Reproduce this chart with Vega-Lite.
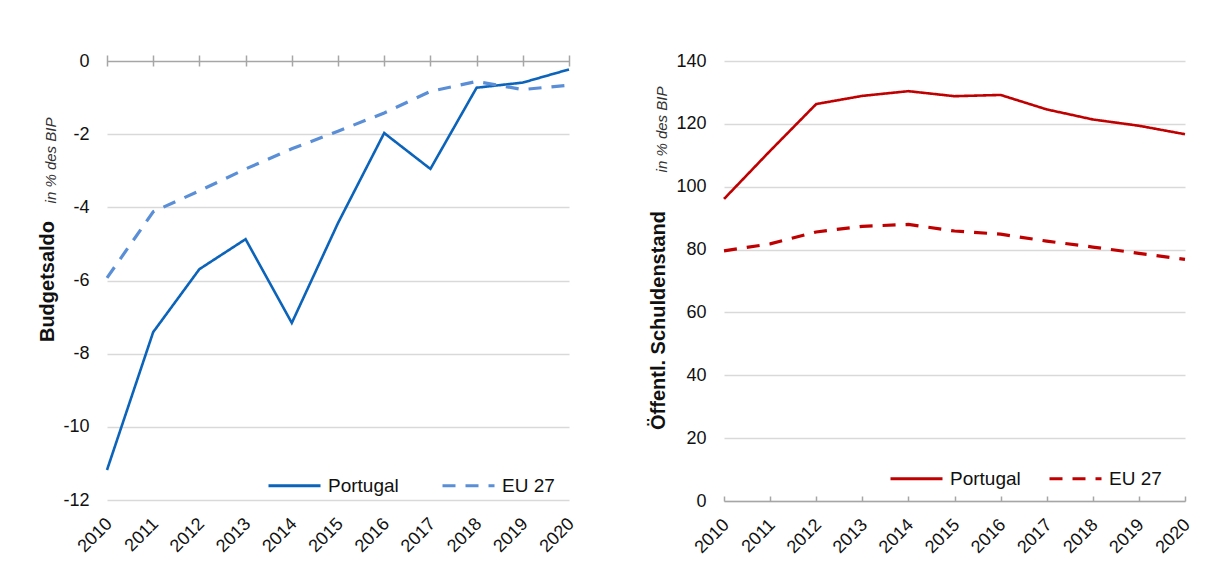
{
  "$schema": "https://vega.github.io/schema/vega-lite/v6.json",
  "background": "white",
  "padding": {"left": 37, "top": 52, "right": 5, "bottom": 5},
  "spacing": 70,
  "config": {
    "font": "Liberation Sans",
    "view": {"stroke": null},
    "axis": {
      "labelFont": "Liberation Sans",
      "labelFontSize": 18,
      "labelColor": "#111111",
      "titleFont": "Liberation Sans",
      "titleColor": "#111111",
      "gridColor": "#d9d9d9",
      "gridWidth": 1.3,
      "domainColor": "#a6a6a6",
      "domainWidth": 1.5,
      "tickColor": "#a6a6a6",
      "tickWidth": 1.5
    },
    "legend": {
      "orient": "none",
      "direction": "horizontal",
      "padding": 0,
      "labelFont": "Liberation Sans",
      "labelFontSize": 19,
      "labelColor": "#111111",
      "labelOffset": 6,
      "symbolType": "stroke",
      "symbolSize": 2704,
      "symbolStrokeWidth": 3
    }
  },
  "datasets": {
    "saldo": [
      {"Jahr": 2010, "Reihe": "Portugal", "Wert": -11.18},
      {"Jahr": 2011, "Reihe": "Portugal", "Wert": -7.41},
      {"Jahr": 2012, "Reihe": "Portugal", "Wert": -5.69},
      {"Jahr": 2013, "Reihe": "Portugal", "Wert": -4.87},
      {"Jahr": 2014, "Reihe": "Portugal", "Wert": -7.16},
      {"Jahr": 2015, "Reihe": "Portugal", "Wert": -4.43},
      {"Jahr": 2016, "Reihe": "Portugal", "Wert": -1.97},
      {"Jahr": 2017, "Reihe": "Portugal", "Wert": -2.95},
      {"Jahr": 2018, "Reihe": "Portugal", "Wert": -0.73},
      {"Jahr": 2019, "Reihe": "Portugal", "Wert": -0.59},
      {"Jahr": 2020, "Reihe": "Portugal", "Wert": -0.23},
      {"Jahr": 2010, "Reihe": "EU 27", "Wert": -5.93},
      {"Jahr": 2011, "Reihe": "EU 27", "Wert": -4.12},
      {"Jahr": 2012, "Reihe": "EU 27", "Wert": -3.55},
      {"Jahr": 2013, "Reihe": "EU 27", "Wert": -2.95},
      {"Jahr": 2014, "Reihe": "EU 27", "Wert": -2.4},
      {"Jahr": 2015, "Reihe": "EU 27", "Wert": -1.92},
      {"Jahr": 2016, "Reihe": "EU 27", "Wert": -1.42},
      {"Jahr": 2017, "Reihe": "EU 27", "Wert": -0.83},
      {"Jahr": 2018, "Reihe": "EU 27", "Wert": -0.56},
      {"Jahr": 2019, "Reihe": "EU 27", "Wert": -0.78},
      {"Jahr": 2020, "Reihe": "EU 27", "Wert": -0.66}
    ],
    "schulden": [
      {"Jahr": 2010, "Reihe": "Portugal", "Wert": 96.1},
      {"Jahr": 2011, "Reihe": "Portugal", "Wert": 111.4},
      {"Jahr": 2012, "Reihe": "Portugal", "Wert": 126.3},
      {"Jahr": 2013, "Reihe": "Portugal", "Wert": 128.9},
      {"Jahr": 2014, "Reihe": "Portugal", "Wert": 130.4},
      {"Jahr": 2015, "Reihe": "Portugal", "Wert": 128.8},
      {"Jahr": 2016, "Reihe": "Portugal", "Wert": 129.2},
      {"Jahr": 2017, "Reihe": "Portugal", "Wert": 124.6},
      {"Jahr": 2018, "Reihe": "Portugal", "Wert": 121.4},
      {"Jahr": 2019, "Reihe": "Portugal", "Wert": 119.4},
      {"Jahr": 2020, "Reihe": "Portugal", "Wert": 116.7},
      {"Jahr": 2010, "Reihe": "EU 27", "Wert": 79.6},
      {"Jahr": 2011, "Reihe": "EU 27", "Wert": 81.8},
      {"Jahr": 2012, "Reihe": "EU 27", "Wert": 85.6},
      {"Jahr": 2013, "Reihe": "EU 27", "Wert": 87.4},
      {"Jahr": 2014, "Reihe": "EU 27", "Wert": 88.0},
      {"Jahr": 2015, "Reihe": "EU 27", "Wert": 85.9},
      {"Jahr": 2016, "Reihe": "EU 27", "Wert": 84.9},
      {"Jahr": 2017, "Reihe": "EU 27", "Wert": 82.7},
      {"Jahr": 2018, "Reihe": "EU 27", "Wert": 80.8},
      {"Jahr": 2019, "Reihe": "EU 27", "Wert": 78.8},
      {"Jahr": 2020, "Reihe": "EU 27", "Wert": 76.9}
    ]
  },
  "hconcat": [
    {
      "width": 462,
      "height": 439,
      "data": {"name": "saldo"},
      "layer": [
        {
          "transform": [{"filter": "datum.Reihe === 'Portugal'"}],
          "mark": {"type": "line", "strokeWidth": 2.6},
          "encoding": {
            "x": {
              "field": "Jahr", "type": "quantitative",
              "scale": {"domain": [2010, 2020], "nice": false, "zero": false},
              "axis": {
                "orient": "bottom", "values": [2010, 2011, 2012, 2013, 2014, 2015, 2016, 2017, 2018, 2019, 2020],
                "format": "d", "labelAngle": -45, "labelAlign": "right", "labelBaseline": "middle",
                "labelPadding": 21, "labelOffset": 2,
                "domain": false, "ticks": false, "grid": false, "title": null
              }
            },
            "y": {
              "field": "Wert", "type": "quantitative",
              "scale": {"domain": [-12, 0], "nice": false},
              "axis": {
                "orient": "left", "values": [-12, -10, -8, -6, -4, -2, 0],
                "labelExpr": "datum.value < 0 ? '-' + abs(datum.value) : '' + datum.value",
                "domain": false, "ticks": false, "labelPadding": 18,
                "grid": true,
                "gridColor": {"condition": {"test": "datum.value === 0", "value": "#a6a6a6"}, "value": "#d9d9d9"},
                "title": "Budgetsaldo", "titleFontSize": 20, "titleFontWeight": "bold",
                "titleAngle": -90, "titleAlign": "center", "titleBaseline": "alphabetic",
                "titleX": -54, "titleY": 220
              }
            },
            "color": {
              "field": "Reihe", "type": "nominal",
              "scale": {"domain": ["Portugal", "EU 27"], "range": ["#0b63ba", "#5a8fd7"]},
              "legend": {"title": null, "legendX": 160, "legendY": 397, "columnPadding": 37}
            },
            "strokeDash": {
              "field": "Reihe", "type": "nominal",
              "scale": {"domain": ["Portugal", "EU 27"], "range": [[1, 0], [13, 10]]},
              "legend": {"title": null, "legendX": 160, "legendY": 397, "columnPadding": 37}
            }
          }
        },
        {
          "transform": [{"filter": "datum.Reihe === 'EU 27'"}],
          "mark": {"type": "line", "strokeWidth": 3.2},
          "encoding": {
            "x": {
              "field": "Jahr", "type": "quantitative",
              "scale": {"domain": [2010, 2020], "nice": false, "zero": false},
              "axis": {
                "orient": "top", "values": [2010, 2011, 2012, 2013, 2014, 2015, 2016, 2017, 2018, 2019, 2020],
                "labels": false, "domain": false, "grid": false, "title": null,
                "ticks": true, "tickSize": 11, "offset": -5
              }
            },
            "y": {
              "field": "Wert", "type": "quantitative",
              "scale": {"domain": [-12, 0], "nice": false},
              "axis": {
                "orient": "left", "labels": false, "ticks": false, "domain": false, "grid": false,
                "title": "in % des BIP", "titleFontSize": 15, "titleFontWeight": "normal",
                "titleFontStyle": "italic", "titleColor": "#333333",
                "titleAngle": -90, "titleAlign": "center", "titleBaseline": "alphabetic",
                "titleX": -51.5, "titleY": 99
              }
            },
            "color": {
              "field": "Reihe", "type": "nominal",
              "scale": {"domain": ["Portugal", "EU 27"], "range": ["#0b63ba", "#5a8fd7"]},
              "legend": {"title": null, "legendX": 160, "legendY": 397, "columnPadding": 37}
            },
            "strokeDash": {
              "field": "Reihe", "type": "nominal",
              "scale": {"domain": ["Portugal", "EU 27"], "range": [[1, 0], [13, 10]]},
              "legend": {"title": null, "legendX": 160, "legendY": 397, "columnPadding": 37}
            }
          }
        }
      ],
      "resolve": {"axis": {"x": "independent", "y": "independent"}}
    },
    {
      "width": 461,
      "height": 440,
      "data": {"name": "schulden"},
      "layer": [
        {
          "transform": [{"filter": "datum.Reihe === 'Portugal'"}],
          "mark": {"type": "line", "strokeWidth": 2.6},
          "encoding": {
            "x": {
              "field": "Jahr", "type": "quantitative",
              "scale": {"domain": [2010, 2020], "nice": false, "zero": false},
              "axis": {
                "orient": "bottom", "values": [2010, 2011, 2012, 2013, 2014, 2015, 2016, 2017, 2018, 2019, 2020],
                "format": "d", "labelAngle": -45, "labelAlign": "right", "labelBaseline": "middle",
                "labelPadding": 21, "labelOffset": 2,
                "domain": true, "ticks": false, "grid": false, "title": null
              }
            },
            "y": {
              "field": "Wert", "type": "quantitative",
              "scale": {"domain": [0, 140], "nice": false},
              "axis": {
                "orient": "left", "values": [0, 20, 40, 60, 80, 100, 120, 140],
                "domain": false, "ticks": false, "labelPadding": 18, "grid": true,
                "title": "Öffentl. Schuldenstand", "titleFontSize": 20, "titleFontWeight": "bold",
                "titleAngle": -90, "titleAlign": "center", "titleBaseline": "alphabetic",
                "titleX": -60, "titleY": 259
              }
            },
            "color": {
              "field": "Reihe", "type": "nominal",
              "scale": {"domain": ["Portugal", "EU 27"], "range": ["#c00000", "#c00000"]},
              "legend": {"title": null, "legendX": 165, "legendY": 390, "columnPadding": 22}
            },
            "strokeDash": {
              "field": "Reihe", "type": "nominal",
              "scale": {"domain": ["Portugal", "EU 27"], "range": [[1, 0], [13, 10]]},
              "legend": {"title": null, "legendX": 165, "legendY": 390, "columnPadding": 22}
            }
          }
        },
        {
          "transform": [{"filter": "datum.Reihe === 'EU 27'"}],
          "mark": {"type": "line", "strokeWidth": 3.2},
          "encoding": {
            "x": {
              "field": "Jahr", "type": "quantitative",
              "scale": {"domain": [2010, 2020], "nice": false, "zero": false},
              "axis": {
                "orient": "bottom", "values": [2010, 2011, 2012, 2013, 2014, 2015, 2016, 2017, 2018, 2019, 2020],
                "labels": false, "domain": false, "grid": false, "title": null,
                "ticks": true, "tickSize": 5, "offset": -5
              }
            },
            "y": {
              "field": "Wert", "type": "quantitative",
              "scale": {"domain": [0, 140], "nice": false},
              "axis": {
                "orient": "left", "labels": false, "ticks": false, "domain": false, "grid": false,
                "title": "in % des BIP", "titleFontSize": 15, "titleFontWeight": "normal",
                "titleFontStyle": "italic", "titleColor": "#333333",
                "titleAngle": -90, "titleAlign": "center", "titleBaseline": "alphabetic",
                "titleX": -58, "titleY": 68
              }
            },
            "color": {
              "field": "Reihe", "type": "nominal",
              "scale": {"domain": ["Portugal", "EU 27"], "range": ["#c00000", "#c00000"]},
              "legend": {"title": null, "legendX": 165, "legendY": 390, "columnPadding": 22}
            },
            "strokeDash": {
              "field": "Reihe", "type": "nominal",
              "scale": {"domain": ["Portugal", "EU 27"], "range": [[1, 0], [13, 10]]},
              "legend": {"title": null, "legendX": 165, "legendY": 390, "columnPadding": 22}
            }
          }
        }
      ],
      "resolve": {"axis": {"x": "independent", "y": "independent"}}
    }
  ],
  "resolve": {
    "scale": {"color": "independent", "strokeDash": "independent"},
    "legend": {"color": "independent", "strokeDash": "independent"}
  }
}
